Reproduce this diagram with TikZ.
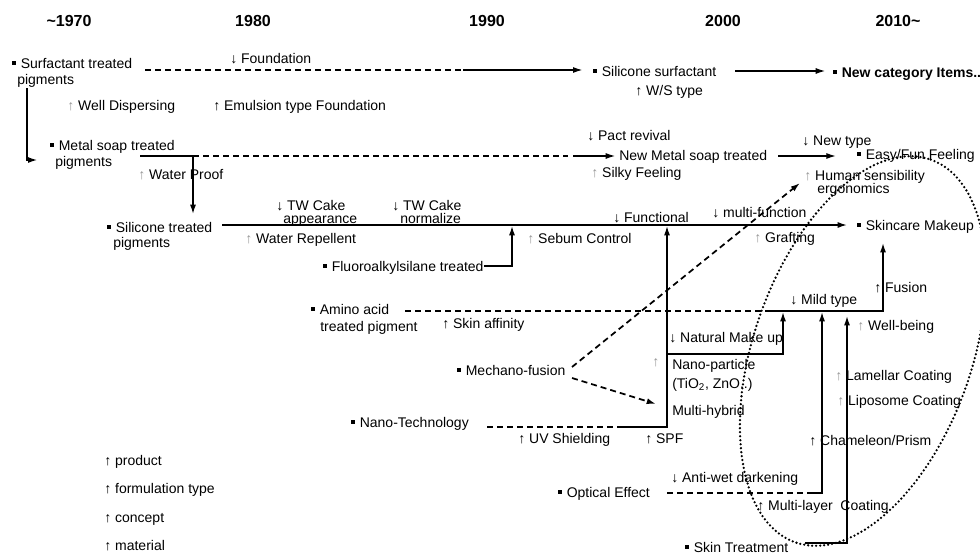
\documentclass[tikz,border=0pt]{standalone}
\usepackage{fontspec}
\setmainfont{Liberation Sans}
\usetikzlibrary{arrows.meta}
\newcommand\bul{\rule[0.22em]{0.26em}{0.26em}\hspace{0.35em}}
\newcommand\fa{\textcolor{black!40}{↑}\ }
\begin{document}
\begin{tikzpicture}[x=0.75pt,y=-0.75pt,
  lbl/.style={anchor=base west,inner sep=0pt,font=\fontsize{10.5}{12}\selectfont},
  bld/.style={lbl,font=\fontsize{10.5}{12}\selectfont\bfseries},
  hdr/.style={anchor=base,inner sep=0pt,font=\fontsize{12}{14}\selectfont\bfseries},
  ln/.style={line width=1.1pt},
  dsh/.style={line width=1.3pt,dash pattern=on 4.5pt off 3pt},
  thn/.style={line width=0.8pt},
  arr/.style={-{Latex[length=7pt,width=4.5pt]}},
  ell/.style={line width=1.9pt,dash pattern=on 0pt off 3pt,line cap=round}]
\useasboundingbox (0,0) rectangle (980,557);

% headers
\node[hdr] (h1970) at (69,26) {\textasciitilde1970};
\node[hdr] (h1980) at (253,26) {1980};
\node[hdr] (h1990) at (487,26) {1990};
\node[hdr] (h2000) at (723,26) {2000};
\node[hdr] (h2010) at (898,26) {2010\textasciitilde};

% row 1
\node[lbl] (st1) at (12,68) {\bul Surfactant treated};
\node[lbl] (st2) at (17,84) {pigments};
\node[lbl] (found) at (230,63) {↓ Foundation};
\node[lbl] (ssurf) at (593,76) {\bul Silicone surfactant};
\node[lbl] (ws) at (635,95) {↑ W/S type};
\node[bld] (newcat) at (833,77) {\bul New category Items..};
\node[lbl] (welld) at (67,110) {\fa Well Dispersing};
\node[lbl] (emul) at (213,110) {↑ Emulsion type Foundation};

\coordinate (a1) at (145,70);
\coordinate (a2) at (463,70);
\draw[dsh] (a1) -- (a2);
\draw[thn,arr,shorten >=8pt] (a2) -- (a2 -| ssurf.west);
\coordinate (b1) at (735,71);
\draw[thn,arr,shorten >=6pt] (b1) -- (b1 -| newcat.west);

% row 2
\node[lbl] (ms1) at (50,150) {\bul Metal soap treated};
\node[lbl] (ms2) at (55,166) {pigments};
\coordinate (v1) at (27,88);
\coordinate (v2) at (27,160);
\draw[ln,arr,shorten >=9.5pt] (v1) -- (v2) -- (v2 -| ms1.west);

\node[lbl] (pact) at (587,140) {↓ Pact revival};
\node[lbl] (nms) at (619,160) {New Metal soap treated};
\node[lbl] (silky) at (591,177) {\fa Silky Feeling};
\node[lbl] (newtype) at (802,145) {↓ New type};
\node[lbl] (easy) at (857,159) {\bul Easy/Fun Feeling};
\node[lbl] (wp) at (138,179) {\fa Water Proof};

\coordinate (m1) at (140,156);
\coordinate (m2) at (193,156);
\coordinate (m3) at (568,156);
\coordinate (m4) at (573,156);
\draw[ln] (m1) -- (m2);
\draw[dsh] (m2) -- (m3);
\draw[thn,arr,shorten >=3pt] (m4) -- (m4 -| nms.west);
\coordinate (n1) at (778,156);
\draw[thn,arr,shorten >=16pt] (n1) -- (n1 -| easy.west);
\coordinate (m5) at (193,214);
\draw[ln,arr] (m2) -- (m5);

% row 3
\node[lbl] (si1) at (107,232) {\bul Silicone treated};
\node[lbl] (si2) at (113,247) {pigments};
\node[lbl] (tw1a) at (276,210) {↓ TW Cake};
\node[lbl] (tw1b) at (283,223) {appearance};
\node[lbl] (tw2a) at (392,210) {↓ TW Cake};
\node[lbl] (tw2b) at (400,223) {normalize};
\node[lbl] (func) at (613,222) {↓ Functional};
\node[lbl] (multi) at (712,217) {↓ multi-function};
\node[lbl] (skm) at (857,230) {\bul Skincare Makeup};
\node[lbl] (wr) at (245,243) {\fa Water Repellent};
\node[lbl] (sebum) at (527,243) {\fa Sebum Control};
\node[lbl] (graft) at (754,242) {\fa Grafting};

\coordinate (s1) at (222,225);
\draw[ln,arr,shorten >=7.5pt] (s1) -- (s1 -| skm.west);

% fluoroalkylsilane
\node[lbl] (fluoro) at (323,271) {\bul Fluoroalkylsilane treated};
\coordinate (f1) at (512,266);
\coordinate (f2) at (512,226);
\draw[ln,arr] (fluoro.east |- f1) -- (f1) -- (f2);

% amino acid
\node[lbl] (aa1) at (311,314) {\bul Amino acid};
\node[lbl] (aa2) at (320,331) {treated pigment};
\node[lbl] (skaff) at (442,328) {↑ Skin affinity};
\node[lbl] (fusion) at (874,292) {↑ Fusion};
\node[lbl] (mild) at (790,304) {↓ Mild type};
\node[lbl] (wellb) at (857,330) {\fa Well-being};
\coordinate (aa3) at (405,311);
\coordinate (aa4) at (767,311);
\coordinate (aa5) at (883,311);
\coordinate (aa6) at (883,243);
\draw[dsh] (aa3) -- (aa4);
\draw[ln,arr] (aa4) -- (aa5) -- (aa6);

% mechano-fusion
\node[lbl] (mech) at (457,375) {\bul Mechano-fusion};
\coordinate (mf1) at (572,367);
\coordinate (mf2) at (800,183);
\coordinate (mf3) at (572,378);
\coordinate (mf4) at (656,404);
\draw[dsh,arr] (mf1) -- (mf2);
\draw[dsh,arr] (mf3) -- (mf4);

% human sensibility
\node[lbl] (hs1) at (804,180) {\fa Human sensibility};
\node[lbl] (hs2) at (817,193) {ergonomics};

% nano particle column
\node[lbl] (nat) at (669,342) {↓ Natural Make up};
\node[lbl] (npm) at (652,366) {\textcolor{black!40}{↑}};
\node[lbl] (np1) at (672,369) {Nano-particle};
\node[lbl] (np2) at (672,388) {(TiO\textsubscript{2}, ZnO..)};
\node[lbl] (mh) at (672,415) {Multi-hybrid};
\coordinate (nm1) at (667,354);
\coordinate (nm2) at (783,354);
\coordinate (nm3) at (783,312);
\draw[ln,arr] (nm1) -- (nm2) -- (nm3);

% nano-technology
\node[lbl] (nano) at (351,427) {\bul Nano-Technology};
\node[lbl] (uv) at (518,443) {↑ UV Shielding};
\node[lbl] (spf) at (645,443) {↑ SPF};
\coordinate (nt1) at (487,427);
\coordinate (nt2) at (617,427);
\coordinate (nt3) at (667,427);
\coordinate (nt4) at (667,226);
\draw[dsh] (nt1) -- (nt2);
\draw[ln,arr] (nt2) -- (nt3) -- (nt4);

% optical effect
\node[lbl] (opt) at (558,497) {\bul Optical Effect};
\node[lbl] (antiwet) at (671,482) {↓ Anti-wet darkening};
\node[lbl] (cham) at (809,445) {↑ Chameleon/Prism};
\node[lbl] (lam) at (835,380) {\fa Lamellar Coating};
\node[lbl] (lipo) at (837,405) {\fa Liposome Coating};
\coordinate (o1) at (667,493);
\coordinate (o2) at (810,493);
\coordinate (o3) at (822,493);
\coordinate (o4) at (822,312);
\draw[dsh] (o1) -- (o2);
\draw[ln,arr] (o2) -- (o3) -- (o4);

% skin treatment
\node[lbl] (mlc) at (757,510) {↑ Multi-layer\ \ Coating};
\node[lbl] (skt) at (685,552) {\bul Skin Treatment};
\coordinate (k1) at (805,543);
\coordinate (k2) at (847,543);
\coordinate (k3) at (847,316);
\draw[ln,arr] (k1) -- (k2) -- (k3);

% legend
\node[lbl] (lg1) at (104,465) {↑ product};
\node[lbl] (lg2) at (104,493) {↑ formulation type};
\node[lbl] (lg3) at (104,522) {↑ concept};
\node[lbl] (lg4) at (104,550) {↑ material};

% dotted ellipse
\draw[ell,rotate around={70.5:(863,351)}] (863,351) ellipse [x radius=203, y radius=109];
\end{tikzpicture}
\end{document}
